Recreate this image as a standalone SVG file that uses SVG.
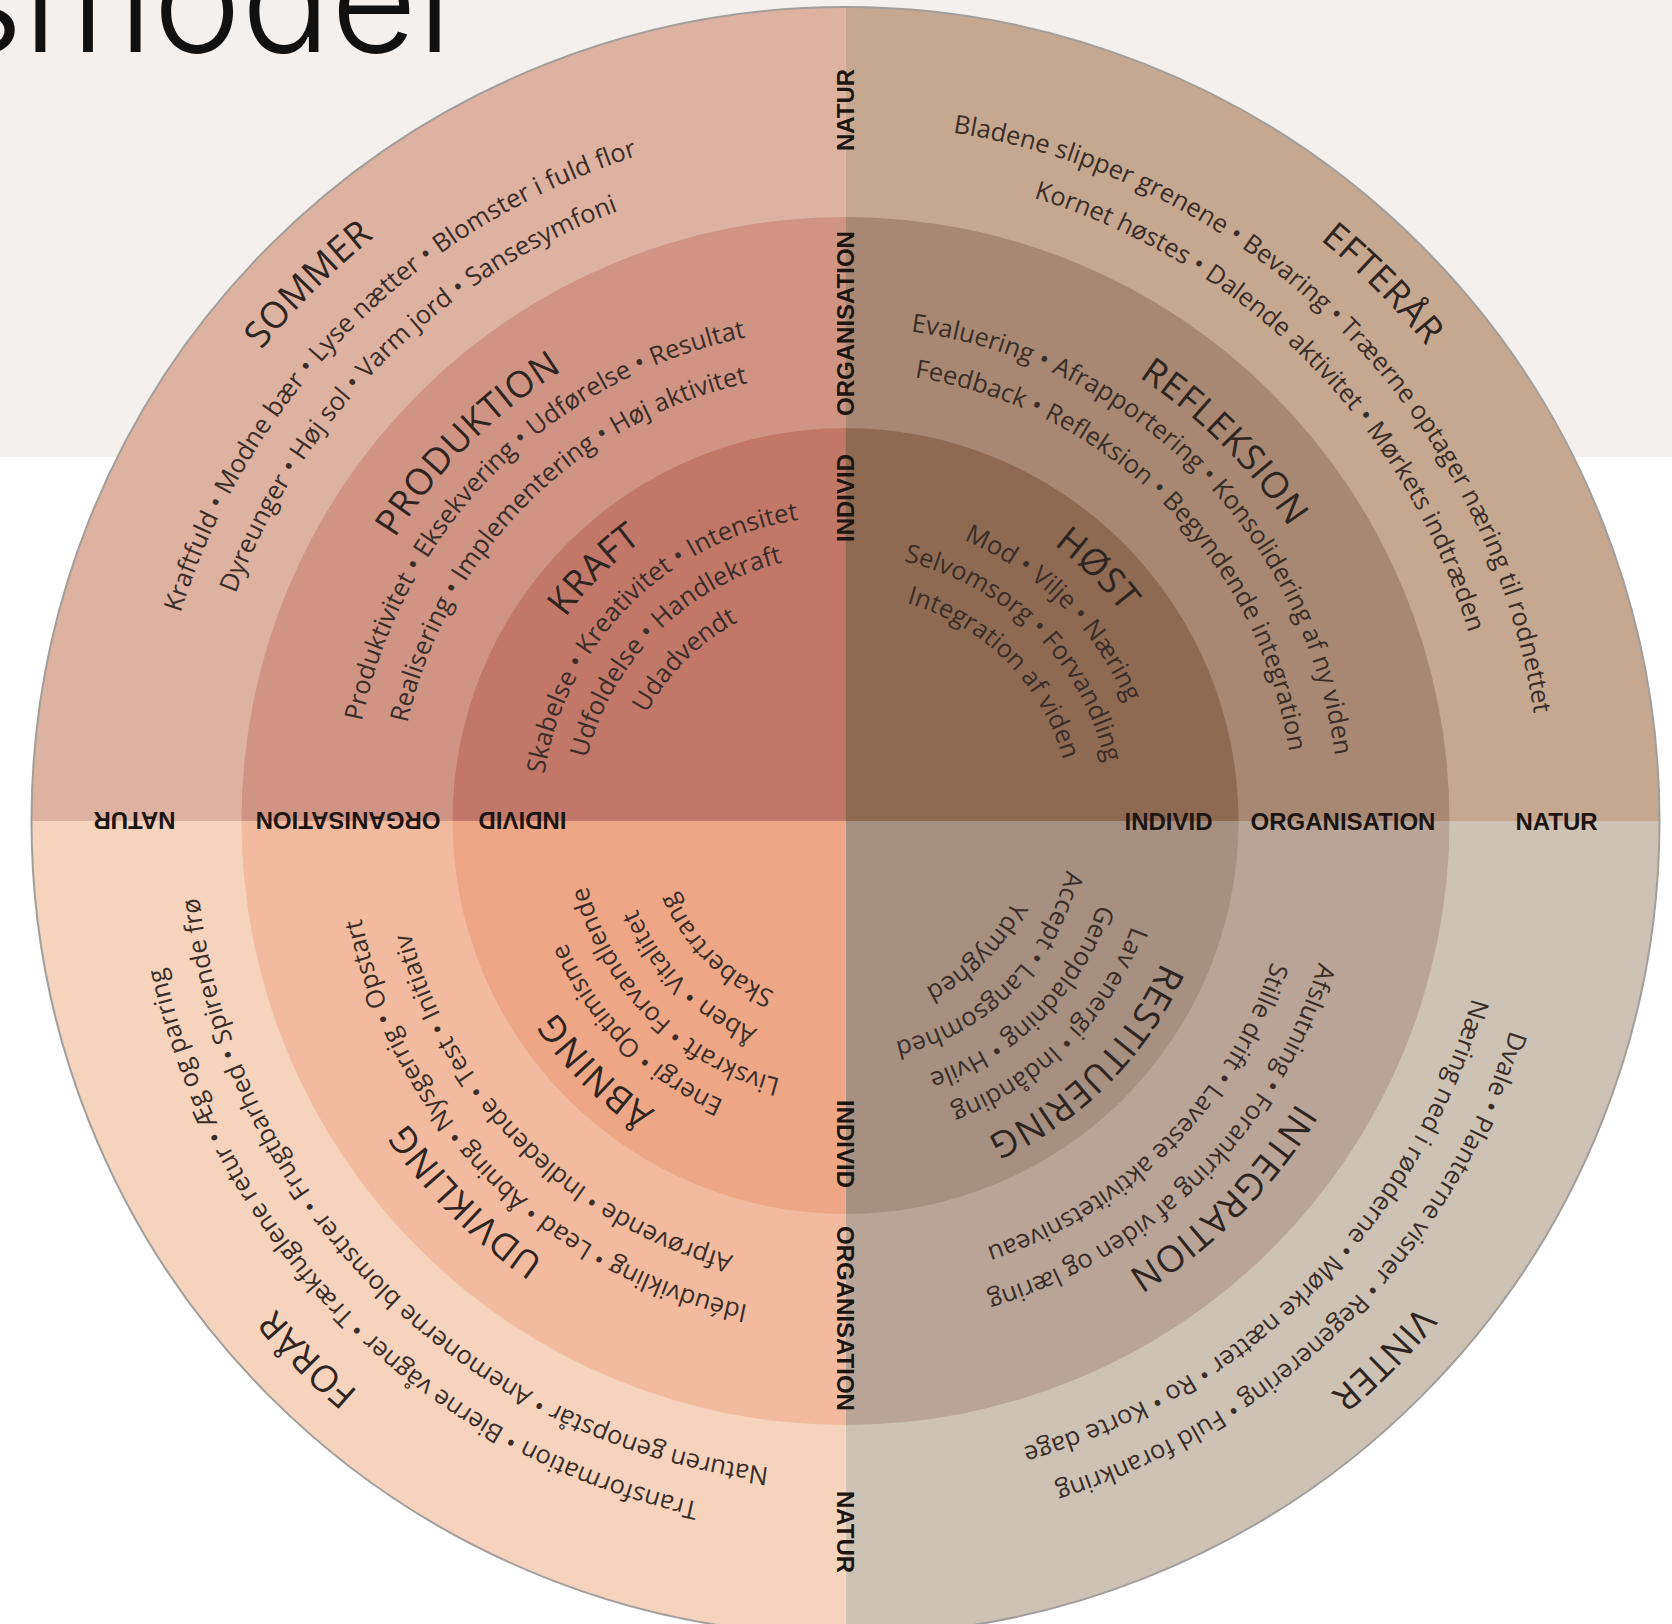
<svg xmlns="http://www.w3.org/2000/svg" width="1672" height="1624" viewBox="0 0 1672 1624">
<style>
.t{font-family:'Open Sans','DejaVu Sans',sans-serif;font-size:25.5px;fill:#3a2d28;text-anchor:middle}
.h{font-family:'Open Sans','DejaVu Sans',sans-serif;font-size:36.5px;fill:#2e2420;text-anchor:middle;letter-spacing:0.5px}
.ax{font-family:'Liberation Sans',Arial,sans-serif;font-weight:bold;font-size:24px;fill:#1c1512;text-anchor:middle}
</style>
<defs>
<path id="r750" d="M13.09,-749.89 A750,750 0 0 1 13.09,749.89"/>
<path id="r697" d="M12.16,-696.89 A697,697 0 0 1 12.16,696.89"/>
<path id="r651" d="M11.36,-650.90 A651,651 0 0 1 11.36,650.90"/>
<path id="r532" d="M9.28,-531.92 A532,532 0 0 1 9.28,531.92"/>
<path id="r494" d="M8.62,-493.92 A494,494 0 0 1 8.62,493.92"/>
<path id="r449" d="M7.84,-448.93 A449,449 0 0 1 7.84,448.93"/>
<path id="r346" d="M6.04,-345.95 A346,346 0 0 1 6.04,345.95"/>
<path id="r305" d="M5.32,-304.95 A305,305 0 0 1 5.32,304.95"/>
<path id="r266" d="M4.64,-265.96 A266,266 0 0 1 4.64,265.96"/>
<path id="r226" d="M3.94,-225.97 A226,226 0 0 1 3.94,225.97"/>
<path id="r185" d="M3.23,-184.97 A185,185 0 0 1 3.23,184.97"/>
</defs>
<rect x="0" y="0" width="1672" height="1624" fill="#ffffff"/>
<rect x="0" y="0" width="1672" height="457" fill="#f4f0ed"/>
<text x="-54" y="52" font-family="Inter,'Open Sans',sans-serif" font-weight="300" font-size="150" fill="#111111" textLength="506" lengthAdjust="spacingAndGlyphs">smodel</text>

<g id="sommer">
<path d="M845.5,821 L31.5,821 A814,814 0 0 1 845.5,7 Z" fill="#ddb2a1"/>
<path d="M845.5,821 L241.5,821 A604,604 0 0 1 845.5,217 Z" fill="#cf9484"/>
<path d="M845.5,821 L452.5,821 A393,393 0 0 1 845.5,428 Z" fill="#c17868"/>
<g transform="translate(845.5,821) rotate(225)">
<text class="h"><textPath href="#r750" startOffset="50%">SOMMER</textPath></text>
<text class="t"><textPath href="#r697" startOffset="50%">Kraftfuld • Modne bær • Lyse nætter • Blomster i fuld flor</textPath></text>
<text class="t"><textPath href="#r651" startOffset="50%">Dyreunger • Høj sol • Varm jord • Sansesymfoni</textPath></text>
<text class="h"><textPath href="#r532" startOffset="50%">PRODUKTION</textPath></text>
<text class="t"><textPath href="#r494" startOffset="50%">Produktivitet • Eksekvering • Udførelse • Resultat</textPath></text>
<text class="t"><textPath href="#r449" startOffset="50%">Realisering • Implementering • Høj aktivitet</textPath></text>
<text class="h"><textPath href="#r346" startOffset="50%">KRAFT</textPath></text>
<text class="t"><textPath href="#r305" startOffset="50%">Skabelse • Kreativitet • Intensitet</textPath></text>
<text class="t"><textPath href="#r266" startOffset="50%">Udfoldelse • Handlekraft</textPath></text>
<text class="t"><textPath href="#r226" startOffset="50%">Udadvendt</textPath></text>
</g>
</g>

<g id="efteraar">
<path d="M845.5,821 L845.5,7 A814,814 0 0 1 1659.5,821 Z" fill="#c6a891"/>
<path d="M845.5,821 L845.5,217 A604,604 0 0 1 1449.5,821 Z" fill="#a98873"/>
<path d="M845.5,821 L845.5,428 A393,393 0 0 1 1238.5,821 Z" fill="#8f6a53"/>
<g transform="translate(845.5,821) rotate(315)">
<text class="h"><textPath href="#r750" startOffset="50%">EFTERÅR</textPath></text>
<text class="t"><textPath href="#r697" startOffset="50%">Bladene slipper grenene • Bevaring • Træerne optager næring til rodnettet</textPath></text>
<text class="t"><textPath href="#r651" startOffset="50%">Kornet høstes • Dalende aktivitet • Mørkets indtræden</textPath></text>
<text class="h"><textPath href="#r532" startOffset="50%">REFLEKSION</textPath></text>
<text class="t"><textPath href="#r494" startOffset="50%">Evaluering • Afrapportering • Konsolidering af ny viden</textPath></text>
<text class="t"><textPath href="#r449" startOffset="50%">Feedback • Refleksion • Begyndende integration</textPath></text>
<text class="h"><textPath href="#r346" startOffset="50%">HØST</textPath></text>
<text class="t"><textPath href="#r305" startOffset="50%">Mod • Vilje • Næring</textPath></text>
<text class="t"><textPath href="#r266" startOffset="50%">Selvomsorg • Forvandling</textPath></text>
<text class="t"><textPath href="#r226" startOffset="50%">Integration af viden</textPath></text>
</g>
</g>

<g id="vinter">
<path d="M845.5,821 L1659.5,821 A814,814 0 0 1 845.5,1635 Z" fill="#cec2b5"/>
<path d="M845.5,821 L1449.5,821 A604,604 0 0 1 845.5,1425 Z" fill="#b8a597"/>
<path d="M845.5,821 L1238.5,821 A393,393 0 0 1 845.5,1214 Z" fill="#a59081"/>
<g transform="translate(845.5,821) rotate(45)">
<text class="h"><textPath href="#r750" startOffset="50%">VINTER</textPath></text>
<text class="t"><textPath href="#r697" startOffset="50%">Dvale • Planterne visner • Regenerering • Fuld forankring</textPath></text>
<text class="t"><textPath href="#r651" startOffset="50%">Næring ned i rødderne • Mørke nætter • Ro • Korte dage</textPath></text>
<text class="h"><textPath href="#r532" startOffset="50%">INTEGRATION</textPath></text>
<text class="t"><textPath href="#r494" startOffset="50%">Afslutning • Forankring af viden og læring</textPath></text>
<text class="t"><textPath href="#r449" startOffset="50%">Stille drift • Laveste aktivitetsniveau</textPath></text>
<text class="h"><textPath href="#r346" startOffset="50%">RESTITUERING</textPath></text>
<text class="t"><textPath href="#r305" startOffset="50%">Lav energi • Indånding</textPath></text>
<text class="t"><textPath href="#r266" startOffset="50%">Genopladning • Hvile</textPath></text>
<text class="t"><textPath href="#r226" startOffset="50%">Accept • Langsomhed</textPath></text>
<text class="t"><textPath href="#r185" startOffset="50%">Ydmyghed</textPath></text>
</g>
</g>

<g id="foraar">
<path d="M845.5,821 L845.5,1635 A814,814 0 0 1 31.5,821 Z" fill="#f5d3bd"/>
<path d="M845.5,821 L845.5,1425 A604,604 0 0 1 241.5,821 Z" fill="#f2bb9f"/>
<path d="M845.5,821 L845.5,1214 A393,393 0 0 1 452.5,821 Z" fill="#eda787"/>
<g transform="translate(845.5,821) rotate(135)">
<text class="h"><textPath href="#r750" startOffset="50%">FORÅR</textPath></text>
<text class="t"><textPath href="#r697" startOffset="50%">Transformation • Bierne vågner • Trækfuglene retur • Æg og parring</textPath></text>
<text class="t"><textPath href="#r651" startOffset="50%">Naturen genopstår • Anemonerne blomstrer • Frugtbarhed • Spirende frø</textPath></text>
<text class="h"><textPath href="#r532" startOffset="50%">UDVIKLING</textPath></text>
<text class="t"><textPath href="#r494" startOffset="50%">Idéudvikling • Lead • Åbning • Nysgerrig • Opstart</textPath></text>
<text class="t"><textPath href="#r449" startOffset="50%">Afprøvende • Indledende • Test • Initiativ</textPath></text>
<text class="h"><textPath href="#r346" startOffset="50%">ÅBNING</textPath></text>
<text class="t"><textPath href="#r305" startOffset="50%">Energi • Optimisme</textPath></text>
<text class="t"><textPath href="#r266" startOffset="50%">Livskraft • Forvandlende</textPath></text>
<text class="t"><textPath href="#r226" startOffset="50%">Åben • Vitalitet</textPath></text>
<text class="t"><textPath href="#r185" startOffset="50%">Skabertrang</textPath></text>
</g>
</g>

<circle cx="845.5" cy="821" r="814" fill="none" stroke="#a19e9b" stroke-width="2"/>

<g id="axis-labels">
<g id="axis-right">
<text class="ax" x="1168.5" y="829.6">INDIVID</text>
<text class="ax" x="1343" y="829.6">ORGANISATION</text>
<text class="ax" x="1556.5" y="829.6">NATUR</text>
</g>
<g id="axis-top" transform="rotate(-90 845.5 821)">
<text class="ax" x="1168.5" y="829.6">INDIVID</text>
<text class="ax" x="1343" y="829.6">ORGANISATION</text>
<text class="ax" x="1556.5" y="829.6">NATUR</text>
</g>
<g id="axis-bottom" transform="rotate(90 845.5 821)">
<text class="ax" x="1168.5" y="829.6">INDIVID</text>
<text class="ax" x="1343" y="829.6">ORGANISATION</text>
<text class="ax" x="1556.5" y="829.6">NATUR</text>
</g>
<g id="axis-left" transform="rotate(180 845.5 821)">
<text class="ax" x="1168.5" y="829.6">INDIVID</text>
<text class="ax" x="1343" y="829.6">ORGANISATION</text>
<text class="ax" x="1556.5" y="829.6">NATUR</text>
</g>
</g>
</svg>
